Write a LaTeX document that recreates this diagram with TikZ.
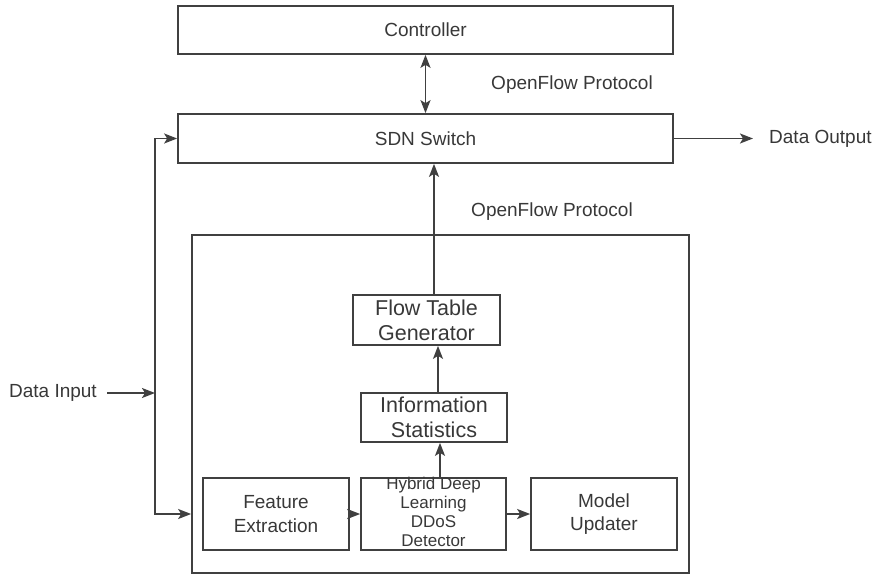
\documentclass[tikz,border=0pt]{standalone}
\usepackage{fontspec}
\setmainfont{Liberation Sans}
\usetikzlibrary{arrows.meta,calc}
\definecolor{ln}{HTML}{404040}
\definecolor{tx}{HTML}{383838}
\tikzset{
  box/.style={draw=ln, line width=1.7pt, inner sep=0pt, text=tx, align=center},
  lbl/.style={text=tx, inner sep=0pt},
  tip/.tip={Stealth[length=13pt,width=10pt,inset=3pt]},
  arr/.style={draw=ln, line width=1.7pt, -tip},
  darr/.style={draw=ln, line width=1.7pt, tip-tip},
  fn/.style={font=\fontsize{19}{23.5}\selectfont},
  fbig/.style={font=\fontsize{21.5}{25}\selectfont},
  fsm/.style={font=\fontsize{17}{19}\selectfont},
}
\begin{document}
\begin{tikzpicture}[x=1pt,y=-1pt]
\useasboundingbox (0,0) rectangle (880,575);
% top boxes
\node[box, fn, minimum width=495, minimum height=48] (ctrl) at (425.5,30) {Controller};
\node[box, fn, minimum width=495, minimum height=49] (sdn) at (425.5,138.5) {SDN Switch};
\node[lbl, fn] (of1) at (572,85) {OpenFlow Protocol};
\node[lbl, fn] (of2) at (552,212) {OpenFlow Protocol};
\node[lbl, fn, anchor=west] (out) at (769,138.5) {Data Output};
\node[lbl, fn, anchor=east] (in) at (97,393) {Data Input};
% detector container
\node[box, minimum width=497, minimum height=338] (det) at (440.5,404) {};
% inner boxes
\node[box, fbig, minimum width=147, minimum height=50] (ftg) at (426.5,320) {Flow Table\\Generator};
\node[box, fbig, minimum width=146, minimum height=49] (ist) at (434,417.5) {Information\\Statistics};
\node[box, fn, minimum width=146, minimum height=72] (fe) at (276,514) {Feature\\Extraction};
\node[box, minimum width=145, minimum height=72] (hd) at (433.5,514) {};
\node[lbl, fsm, align=center, anchor=north] (hdt) at (433.5,477) {Hybrid Deep\\Learning\\DDoS\\Detector};
\node[box, fn, minimum width=146, minimum height=72] (mu) at (604,514) {Model\\Updater};
% connectors
\draw[darr] (ctrl) -- (sdn);
\draw[arr] (sdn.east) -- ([xshift=-16pt]out.west);
\coordinate (j) at (155,393);
\draw[arr] ([xshift=10pt]in.east) -- (j);
\draw[arr] (j) |- (sdn.west);
\draw[arr] (j) |- (det.west |- fe.east);
\draw[arr] ([xshift=7.5pt]ftg.north) -- ([xshift=7.5pt]ftg.north |- sdn.south);
\draw[arr] ([xshift=4pt]ist.north) -- ([xshift=4pt]ist.north |- ftg.south);
\draw[arr] ([xshift=6.5pt]hd.north) -- ([xshift=6.5pt]hd.north |- ist.south);
\draw[arr] (fe.east) -- (hd.west);
\draw[arr] (hd.east) -- (mu.west);
\end{tikzpicture}
\end{document}
